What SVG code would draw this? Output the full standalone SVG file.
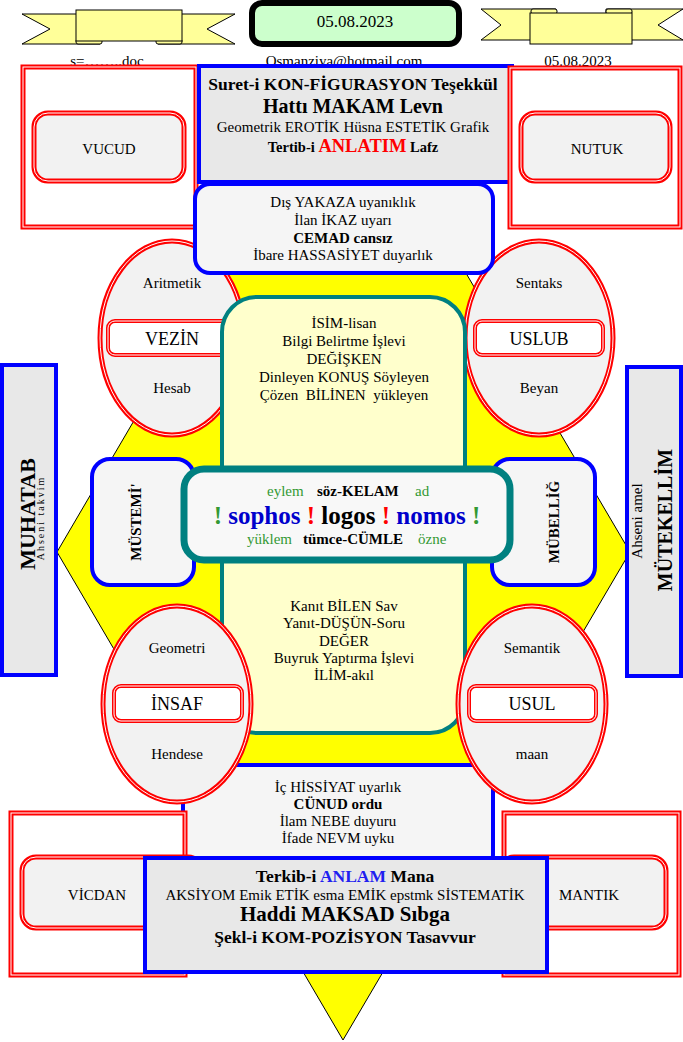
<svg xmlns="http://www.w3.org/2000/svg" width="683" height="1042" viewBox="0 0 683 1042">
<style>
text{font-family:"Liberation Serif","Times New Roman",serif;font-size:15px;fill:#000;text-anchor:middle}
.b{font-weight:bold}
.st{text-anchor:start}
.rib{fill:#FFFF99;stroke:#000;stroke-width:1}
.red{fill:#FFFFFF;stroke:#FF0000;stroke-width:5}
.redg{fill:#F2F2F2;stroke:#FF0000;stroke-width:5}
.redi{fill:#FFFFFF;stroke:#FF0000;stroke-width:4}
.wl{fill:none;stroke:#FFFFFF;stroke-width:1}
.blu{stroke:#0000FF;stroke-width:4}
.gray{fill:#E8E8E8}
.lt{fill:#F5F5F5}
.g{fill:#339933}
.bl{fill:#0000CC}
.r{fill:#FF0000}
.an{fill:#2020F0}
</style>
<rect x="0" y="0" width="683" height="1042" fill="#FFFFFF"/>

<g id="diamond"><polygon points="343,64 630,552 343,1040 57,552" fill="#FFFF00" stroke="#000" stroke-width="1"/></g>

<g id="connectors"></g>

<g id="banner-left">
<path class="rib" d="M22,14 H100 V44 H22 L50,29 Z"/>
<path class="rib" d="M235,14 H158 V44 H235 L207,29 Z"/>
<rect class="rib" x="76" y="39" width="26" height="5" rx="2"/>
<rect class="rib" x="156" y="39" width="26" height="5" rx="2"/>
<rect class="rib" x="76" y="10" width="106" height="31"/>
</g>
<g id="banner-right">
<path class="rib" d="M481,9 H556 V40 H481 L501,25 Z"/>
<path class="rib" d="M683,9 H606 V40 H683 L658,25 Z"/>
<rect class="rib" x="531" y="9" width="26" height="5" rx="2"/>
<rect class="rib" x="606" y="9" width="26" height="5" rx="2"/>
<rect class="rib" x="530" y="13" width="102" height="31"/>
</g>
<g id="date-box">
<rect x="252" y="3" width="207" height="41" rx="10" fill="#CCFFCC" stroke="#000" stroke-width="6"/>
<text x="355" y="27" style="font-size:17px">05.08.2023</text>
</g>
<g id="header-text">
<text x="107" y="66">s=……..doc</text>
<text x="344" y="66">Osmanziya@hotmail.com</text>
<text x="578" y="66">05.08.2023</text>
</g>

<g id="vucud">
<rect class="red" x="23" y="67" width="173" height="160"/>
<rect class="wl" x="23" y="67" width="173" height="160"/>
<rect class="redg" x="34" y="113" width="150" height="68" rx="14"/>
<rect class="wl" x="34" y="113" width="150" height="68" rx="14"/>
<text x="109" y="154">VUCUD</text>
</g>

<g id="konfigurasyon">
<rect class="gray blu" x="199" y="66" width="313" height="116"/>
<text x="353" y="90" class="b" style="font-size:17.5px">Suret-i KON-FİGURASYON Teşekkül</text>
<text x="353" y="113" class="b" style="font-size:20px">Hattı MAKAM Levn</text>
<text x="353" y="132">Geometrik EROTİK Hüsna ESTETİK Grafik</text>
<text x="353" y="152" class="b" style="font-size:14.5px">Tertib-i <tspan class="r" style="font-size:18.5px">ANLATIM</tspan> Lafz</text>
</g>

<g id="nutuk">
<rect class="red" x="510" y="68" width="170" height="159"/>
<rect class="wl" x="510" y="68" width="170" height="159"/>
<rect class="redg" x="521" y="113" width="149" height="68" rx="14"/>
<rect class="wl" x="521" y="113" width="149" height="68" rx="14"/>
<text x="597" y="154">NUTUK</text>
</g>

<g id="muhatab">
<rect class="gray blu" x="2" y="365" width="54" height="310"/>
<text transform="translate(35,514) rotate(-90)" class="b" style="font-size:22px">MUHATAB</text>
<text transform="translate(44,518) rotate(-90)" style="font-size:10px;letter-spacing:2px">Ahseni takvim</text>
</g>

<g id="mutekellim">
<rect class="gray blu" x="627" y="367" width="54" height="309"/>
<text transform="translate(642,521) rotate(-90)">Ahseni amel</text>
<text transform="translate(672,520) rotate(-90)" class="b" style="font-size:20px">MÜTEKELLİM</text>
</g>

<g id="vezin">
<ellipse class="redg" cx="172" cy="338" rx="72" ry="97"/>
<ellipse class="wl" cx="172" cy="338" rx="72" ry="97"/>
<rect class="redi" x="108" y="321" width="128" height="34" rx="7"/>
<rect class="wl" x="108" y="321" width="128" height="34" rx="7"/>
<text x="172" y="288">Aritmetik</text>
<text x="172" y="345" style="font-size:18px">VEZİN</text>
<text x="172" y="393">Hesab</text>
</g>

<g id="uslub">
<ellipse class="redg" cx="539" cy="338" rx="74" ry="97"/>
<ellipse class="wl" cx="539" cy="338" rx="74" ry="97"/>
<rect class="redi" x="475" y="321" width="128" height="34" rx="7"/>
<rect class="wl" x="475" y="321" width="128" height="34" rx="7"/>
<text x="539" y="288">Sentaks</text>
<text x="539" y="345" style="font-size:18px">USLUB</text>
<text x="539" y="393">Beyan</text>
</g>

<g id="yakaza">
<rect class="lt blu" x="195" y="184" width="298" height="89" rx="15"/>
<text x="343" y="207">Dış YAKAZA uyanıklık</text>
<text x="343" y="225">İlan İKAZ uyarı</text>
<text x="343" y="243" class="b">CEMAD cansız</text>
<text x="343" y="260">İbare HASSASİYET duyarlık</text>
</g>

<g id="isim-ilim">
<rect x="222" y="297" width="243" height="436" rx="35" fill="#FFFFCC" stroke="#008080" stroke-width="4"/>
<text x="344" y="328">İSİM-lisan</text>
<text x="344" y="346">Bilgi Belirtme İşlevi</text>
<text x="344" y="364">DEĞİŞKEN</text>
<text x="344" y="382">Dinleyen KONUŞ Söyleyen</text>
<text x="344" y="400" xml:space="preserve">Çözen  BİLİNEN  yükleyen</text>
<text x="344" y="611">Kanıt BİLEN Sav</text>
<text x="344" y="628">Yanıt-DÜŞÜN-Soru</text>
<text x="344" y="646">DEĞER</text>
<text x="344" y="663">Buyruk Yaptırma İşlevi</text>
<text x="344" y="680">İLİM-akıl</text>
</g>

<g id="hissiyat">
<rect class="lt blu" x="183" y="765" width="310" height="105" rx="15"/>
<text x="338" y="792">İç HİSSİYAT uyarlık</text>
<text x="338" y="809" class="b">CÜNUD ordu</text>
<text x="338" y="826">İlam NEBE duyuru</text>
<text x="338" y="843">İfade NEVM uyku</text>
</g>

<g id="insaf">
<ellipse class="redg" cx="177" cy="704" rx="74" ry="98"/>
<ellipse class="wl" cx="177" cy="704" rx="74" ry="98"/>
<rect class="redi" x="114" y="686" width="128" height="35" rx="7"/>
<rect class="wl" x="114" y="686" width="128" height="35" rx="7"/>
<text x="177" y="653">Geometri</text>
<text x="177" y="710" style="font-size:18px">İNSAF</text>
<text x="177" y="759">Hendese</text>
</g>

<g id="usul">
<ellipse class="redg" cx="532" cy="704" rx="74" ry="98"/>
<ellipse class="wl" cx="532" cy="704" rx="74" ry="98"/>
<rect class="redi" x="469" y="686" width="127" height="35" rx="7"/>
<rect class="wl" x="469" y="686" width="127" height="35" rx="7"/>
<text x="532" y="653">Semantik</text>
<text x="532" y="710" style="font-size:18px">USUL</text>
<text x="532" y="759">maan</text>
</g>

<g id="vicdan">
<rect class="red" x="11" y="813" width="174" height="162"/>
<rect class="wl" x="11" y="813" width="174" height="162"/>
<rect class="redg" x="22" y="857" width="180" height="71" rx="14"/>
<rect class="wl" x="22" y="857" width="180" height="71" rx="14"/>
<text x="97" y="900">VİCDAN</text>
</g>

<g id="mantik">
<rect class="red" x="504" y="813" width="175" height="162"/>
<rect class="wl" x="504" y="813" width="175" height="162"/>
<rect class="redg" x="500" y="857" width="166" height="71" rx="14"/>
<rect class="wl" x="500" y="857" width="166" height="71" rx="14"/>
<text x="589" y="900">MANTIK</text>
</g>

<g id="kompozisyon">
<rect class="gray blu" x="145" y="858" width="402" height="114"/>
<text x="345" y="882" class="b" style="font-size:17.5px">Terkib-i <tspan class="an">ANLAM</tspan> Mana</text>
<text x="345" y="900">AKSİYOM Emik ETİK esma EMİK epstmk SİSTEMATİK</text>
<text x="345" y="921" class="b" style="font-size:21px">Haddi MAKSAD Sıbga</text>
<text x="345" y="943" class="b" style="font-size:17.5px">Şekl-i KOM-POZİSYON Tasavvur</text>
</g>

<g id="mustemi">
<rect class="lt blu" x="92" y="459" width="102" height="126" rx="18"/>
<text transform="translate(141,522) rotate(-90)" class="b">MÜSTEMİ'</text>
</g>

<g id="mubellig">
<rect class="lt blu" x="492" y="459" width="103" height="126" rx="18"/>
<text transform="translate(559,522) rotate(-90)" class="b">MÜBELLİĞ</text>
</g>

<g id="logos">
<rect x="184" y="469" width="326" height="91" rx="20" fill="#F8F8F8" stroke="#008080" stroke-width="7"/>
<text y="496" class="st"><tspan x="267" class="g">eylem</tspan><tspan x="317" class="b">söz-KELAM</tspan><tspan x="415" class="g">ad</tspan></text>
<text x="347" y="524" class="b" style="font-size:25px"><tspan class="g">!</tspan> <tspan class="bl">sophos</tspan> <tspan class="r">!</tspan> logos <tspan class="r">!</tspan> <tspan class="bl">nomos</tspan> <tspan class="g">!</tspan></text>
<text y="544" class="st"><tspan x="247" class="g">yüklem</tspan><tspan x="303" class="b">tümce-CÜMLE</tspan><tspan x="418" class="g">özne</tspan></text>
</g>
</svg>
